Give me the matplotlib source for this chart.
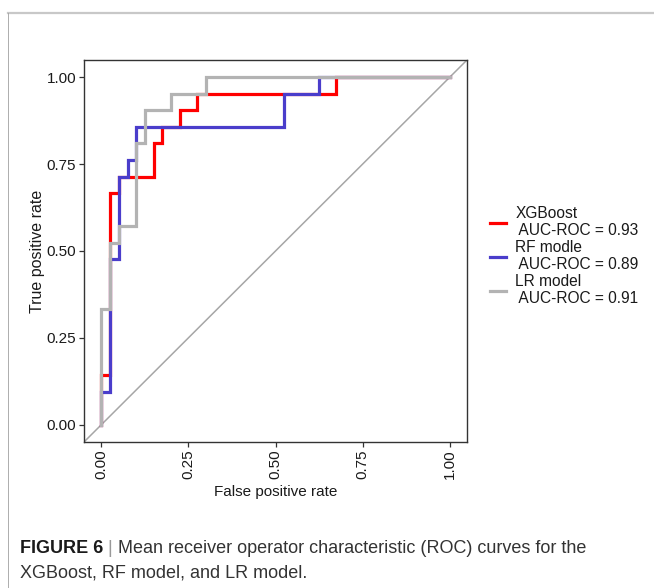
import matplotlib
matplotlib.use("Agg")
import matplotlib.pyplot as plt

plt.rcParams['font.family'] = ['Liberation Sans', 'DejaVu Sans']

# ROC operating points (fpr, tpr) after each jump in the staircase
xgb_fpr = [0.0, 0.0, 0.025, 0.05, 0.15, 0.175, 0.225, 0.275, 0.675, 1.0]
xgb_tpr = [0.0, 0.143, 0.667, 0.714, 0.810, 0.857, 0.905, 0.952, 1.0, 1.0]

rf_fpr = [0.0, 0.0, 0.025, 0.05, 0.075, 0.1, 0.525, 0.625, 1.0]
rf_tpr = [0.0, 0.095, 0.476, 0.714, 0.762, 0.857, 0.952, 1.0, 1.0]

lr_fpr = [0.0, 0.0, 0.025, 0.05, 0.1, 0.125, 0.2, 0.3, 1.0]
lr_tpr = [0.0, 0.333, 0.524, 0.571, 0.810, 0.905, 0.952, 1.0, 1.0]

labels = ['XGBoost\n AUC-ROC = 0.93', 'RF modle\n AUC-ROC = 0.89', 'LR model\n AUC-ROC = 0.91']
colors = ['#FF0000', '#4A3DCB', '#B3B3B3']
ticks = [0.0, 0.25, 0.5, 0.75, 1.0]
tick_labels = ['0.00', '0.25', '0.50', '0.75', '1.00']

W, H = 654, 588
fig = plt.figure(figsize=(W / 100, H / 100), dpi=100)
ax = fig.add_axes([84 / W, 1 - 442 / H, 383 / W, 382 / H])

ax.axline((0, 0), slope=1, color='#A6A6A6', lw=1.1, zorder=1)
curves = [(xgb_fpr, xgb_tpr), (rf_fpr, rf_tpr), (lr_fpr, lr_tpr)]
for (fpr, tpr), lab, col in zip(curves, labels, colors):
    ax.step(fpr, tpr, where='post', color=col, lw=2.3, label=lab,
            solid_joinstyle='miter', zorder=2)

ax.set_xlim(-0.05, 1.05)
ax.set_ylim(-0.05, 1.05)
ax.set_xticks(ticks)
ax.set_xticklabels(tick_labels, rotation=90)
ax.set_yticks(ticks)
ax.set_yticklabels(tick_labels)
ax.tick_params(length=3.5, width=0.9, color='#333333', labelsize=11,
               labelcolor='#1a1a1a', pad=2)
for s in ax.spines.values():
    s.set_color('#333333')
    s.set_linewidth(1.0)
ax.set_xlabel('False positive rate', fontsize=11, color='#1a1a1a', labelpad=4)
ax.set_ylabel('True positive rate', fontsize=11.5, color='#1a1a1a', labelpad=1)

leg = ax.legend(loc='center left', bbox_to_anchor=(482 / W, 1 - 256 / H),
                bbox_transform=fig.transFigure, frameon=False, fontsize=11.2,
                handlelength=1.05, handletextpad=0.6, labelspacing=0.1,
                borderpad=0)
for t in leg.get_texts():
    t.set_linespacing(1.2)
    t.set_color('#1a1a1a')

# page frame lines
fig.add_artist(plt.Line2D([8 / W, 1], [1 - 13 / H, 1 - 13 / H], color='#C8C8C8', lw=1.6))
fig.add_artist(plt.Line2D([8 / W, 8 / W], [0, 1 - 13 / H], color='#A0A0A0', lw=0.6))

# caption
cap_size = 13
r = fig.canvas.get_renderer()
t1 = fig.text(20 / W, 1 - 553 / H, 'FIGURE 6', fontsize=cap_size, fontweight='bold',
              color='#1a1a1a', va='baseline')
x = 20 + t1.get_window_extent(r).width
t2 = fig.text(x / W, 1 - 553 / H, ' | ', fontsize=cap_size, color='#999999',
              va='baseline')
x += t2.get_window_extent(r).width
fig.text(x / W, 1 - 553 / H,
         'Mean receiver operator characteristic (ROC) curves for the',
         fontsize=cap_size, color='#333333', va='baseline')
fig.text(20 / W, 1 - 577 / H, 'XGBoost, RF model, and LR model.',
         fontsize=cap_size, color='#333333', va='baseline')

fig.savefig('out.png', dpi=100)
